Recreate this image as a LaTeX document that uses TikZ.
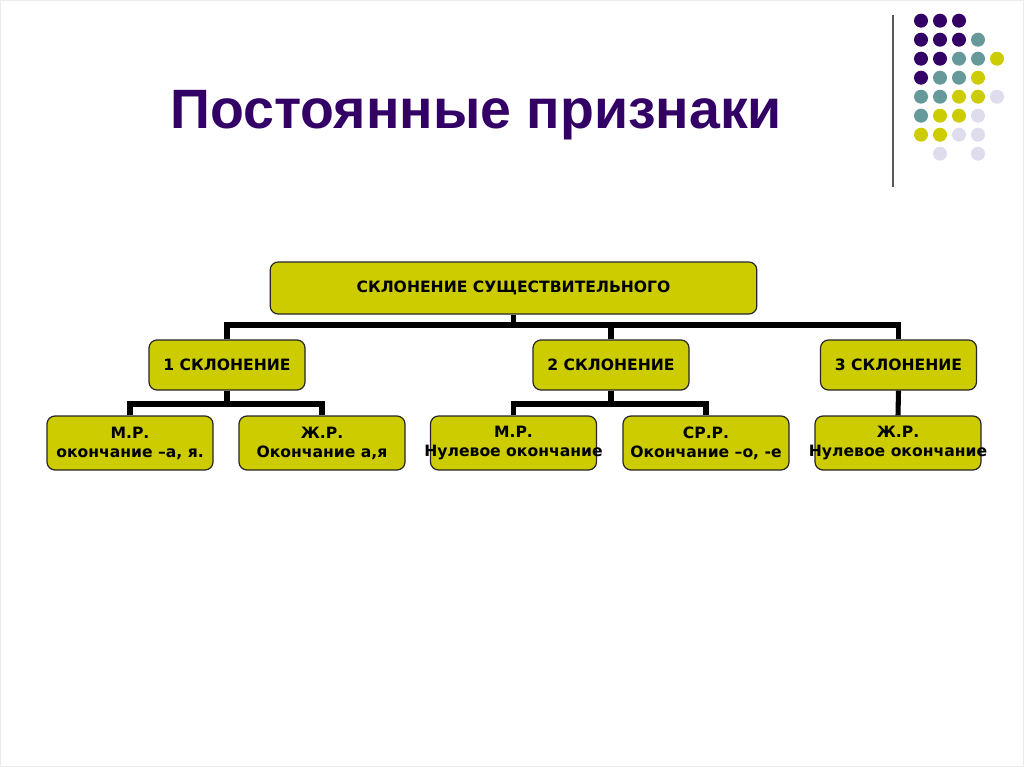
\documentclass[tikz,border=0pt]{standalone}
\usepackage{fontspec}
\setmainfont{Liberation Sans}
\newfontfamily\boxfont{DejaVu Sans}
\usepackage{xcolor}

\definecolor{titlepurple}{RGB}{51,0,102}
\definecolor{boxolive}{RGB}{204,204,0}
\definecolor{dotpurple}{RGB}{51,0,102}
\definecolor{dotteal}{RGB}{102,153,153}
\definecolor{dotyellow}{RGB}{204,204,0}
\definecolor{dotlilac}{RGB}{221,221,238}

% wide line that may stick out of its box
\newcommand{\wideline}[1]{\makebox[0pt]{#1}}

\tikzset{
  box/.style={draw=black!85, fill=boxolive, rounded corners=6pt, line width=0.9pt,
    align=center, inner sep=0pt, font=\boxfont\bfseries\fontsize{11.7}{14.2}\selectfont},
  topbox/.style={box, minimum width=365pt, minimum height=39pt},
  midbox/.style={box, minimum width=117pt, minimum height=37.5pt},
  leafbox/.style={box, minimum width=124.5pt, minimum height=40.5pt},
  link/.style={line width=3.8pt},
}

\begin{document}
\begin{tikzpicture}[x=0.75pt,y=0.75pt,yscale=-1,xscale=1]
\useasboundingbox (0,0) rectangle (1024,767);

%Shape: slide frame
\draw [black!8] (0.5,0.5) rectangle (1023.5,766.5);

%Straight Lines: divider next to the dots
\draw [color=black!65, line width=1.2pt] (893,15) -- (893,187);

%Shape: dot grid
\foreach \c/\r/\col in {1/1/dotpurple,2/1/dotpurple,3/1/dotpurple,
    1/2/dotpurple,2/2/dotpurple,3/2/dotpurple,4/2/dotteal,
    1/3/dotpurple,2/3/dotpurple,3/3/dotteal,4/3/dotteal,5/3/dotyellow,
    1/4/dotpurple,2/4/dotteal,3/4/dotteal,4/4/dotyellow,
    1/5/dotteal,2/5/dotteal,3/5/dotyellow,4/5/dotyellow,5/5/dotlilac,
    1/6/dotteal,2/6/dotyellow,3/6/dotyellow,4/6/dotlilac,
    1/7/dotyellow,2/7/dotyellow,3/7/dotlilac,4/7/dotlilac,
    2/8/dotlilac,4/8/dotlilac}
  \fill [\col] ({921+19*(\c-1)},{20.7+19*(\r-1)}) circle (7);

% Text Node: title
\node [anchor=base west, text=titlepurple, font=\bfseries\fontsize{41.6}{48}\selectfont, inner sep=0pt]
  (title) at (170,128) {Постоянные признаки};

% Boxes
\node [topbox] (noun) at (513.5,288) {СКЛОНЕНИЕ СУЩЕСТВИТЕЛЬНОГО};
\node [midbox] (decl1) at (227,365) {1 СКЛОНЕНИЕ};
\node [midbox] (decl2) at (611,365) {2 СКЛОНЕНИЕ};
\node [midbox] (decl3) at (898.5,365) {3 СКЛОНЕНИЕ};
\node [leafbox] (masc1) at (130,443) {М.Р.\\окончание –а, я.};
\node [leafbox] (fem1) at (322,443) {Ж.Р.\\Окончание а,я};
\node [leafbox] (masc2) at (513.5,443) {М.Р.\\\wideline{Нулевое окончание}};
\node [leafbox] (neut2) at (706,443) {СР.Р.\\Окончание –о, -е};
\node [leafbox] (fem3) at (898,443) {Ж.Р.\\\wideline{Нулевое окончание}};

% Connectors
\coordinate (busA) at (0,325);
\coordinate (busB) at (0,404);
\draw [link] (noun.south) -- (noun.south |- busA);
\draw [link] (decl1.north) -- (decl1.north |- busA) -- (decl3.north |- busA) -- (decl3.north);
\draw [link] (decl2.north) -- (decl2.north |- busA);
\draw [link] (decl1.south) -- (decl1.south |- busB);
\draw [link] (masc1.north) -- (masc1.north |- busB) -- (fem1.north |- busB) -- (fem1.north);
\draw [link] (decl2.south) -- (decl2.south |- busB);
\draw [link] (masc2.north) -- (masc2.north |- busB) -- (neut2.north |- busB) -- (neut2.north);
\draw [link] (decl3.south) -- (fem3.north);

\end{tikzpicture}
\end{document}
